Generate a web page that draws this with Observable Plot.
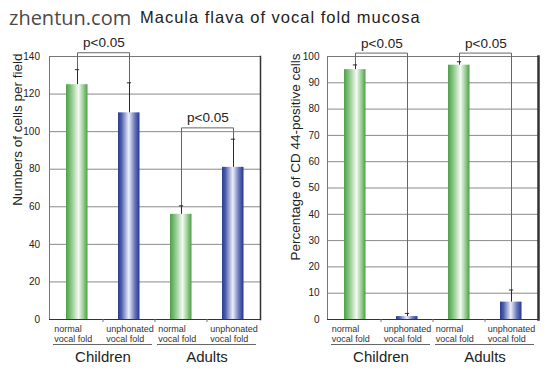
<!DOCTYPE html>
<html><head><meta charset="utf-8">
<script src="https://cdn.jsdelivr.net/npm/d3@7"></script>
<script src="https://cdn.jsdelivr.net/npm/@observablehq/plot@0.6"></script>
<style>
body{margin:0;background:#fff;font-family:"Liberation Sans",Arial,sans-serif;}
#wrap{position:relative;width:549px;height:371px;overflow:hidden;background:#fff;}
#wm{position:absolute;left:9px;top:8px;font-family:"Open Sans",sans-serif;font-size:20px;color:#4a4a4a;line-height:1;white-space:nowrap;}
#title{position:absolute;left:140px;top:9px;font-size:16.5px;letter-spacing:1px;color:#222;line-height:1;white-space:nowrap;}
.panel{position:absolute;top:0;}
</style></head><body>
<div id="wrap"><div id="wm">zhentun.com</div><div id="title">Macula flava of vocal fold mucosa</div></div>
<script>
// ---- data ----
const keys = ["C-normal","C-unphonated","A-normal","A-unphonated"];
const groups = ["Children","Children","Adults","Adults"];
const tissues = ["normal\nvocal fold","unphonated\nvocal fold","normal\nvocal fold","unphonated\nvocal fold"];
const groupNames = ["Children","Adults"];
const cellCounts = [125, 110, 56, 81];
const cellCountsErr = [8, 16, 4.5, 15];
const cd44 = [95, 1.1, 96.7, 6.6];
const cd44Err = [1.8, 1.2, 1.3, 4.6];
const leftTicks = [0,20,40,60,80,100,120,140];
const rightTicks = [0,10,20,30,40,50,60,70,80,90,100];
const sigLabel = "p<0.05";
// brackets: [bar a, bar b, bracket height]
const leftBrackets = [[0,1,142],[2,3,102]];
const rightBrackets = [[0,1,101.3],[2,3,101.3]];

const FONT = "Liberation Sans, Arial, Helvetica, sans-serif";

function makePanel({id, values, errs, yMax, ticks, yLabel, brackets, width, ml, mr, labelGap, labelDx, rightStroke, titleDx}) {
  const H = 371, mt = 56, mb = 52;
  const bw = (width - ml - mr) / 4;
  const data = keys.map((k, i) => ({key: k, group: groups[i], tissue: tissues[i], v: values[i], e: errs[i], top: values[i] + errs[i], kind: i % 2 ? "blue" : "green"}));
  const bracketPts = [];
  brackets.forEach(([a, b, h], j) => {
    bracketPts.push({j, key: keys[a], y: data[a].top});
    bracketPts.push({j, key: keys[a], y: h});
    bracketPts.push({j, key: keys[b], y: h});
    bracketPts.push({j, key: keys[b], y: data[b].top});
  });
  const bracketLabels = brackets.map(([a, b, h]) => ({a: keys[a], h}));

  const defs = () => {
    const d = d3.create("svg:defs");
    const mk = (name, stops) => {
      const g = d.append("linearGradient").attr("id", id + name).attr("x1", "0").attr("x2", "1").attr("y1", "0").attr("y2", "0");
      stops.forEach(([o, c]) => g.append("stop").attr("offset", o).attr("stop-color", c));
    };
    mk("green", [[0, "#4f9f4b"], [0.15, "#6fb86b"], [0.58, "#f4faf2"], [0.82, "#93cb8e"], [1, "#4d9d49"]]);
    mk("blue", [[0, "#2a3b8f"], [0.15, "#4a5aa9"], [0.5, "#eceffa"], [0.78, "#6a78bc"], [1, "#25358b"]]);
    return d.node();
  };

  const groupAxis = (index, scales) => {
    const x = scales.x, y = scales.y;
    const band = typeof x.bandwidth === "function" ? x.bandwidth() : x.bandwidth;
    const g = d3.create("svg:g").attr("font-family", FONT);
    const y0 = y(0);
    [[0, 1], [2, 3]].forEach(([a, b], gi) => {
      const x1 = x(keys[a]) + 2, x2 = x(keys[b]) + band - 3;
      g.append("line").attr("x1", x1).attr("x2", x2).attr("y1", y0 + 25.5).attr("y2", y0 + 25.5).attr("stroke", "#666");
      g.append("text").attr("x", (x(keys[a]) + x(keys[b]) + band) / 2).attr("y", y0 + 42.7)
        .attr("text-anchor", "middle").attr("font-size", 15).attr("fill", "#222").text(groupNames[gi]);
    });
    [1, 2, 3].forEach(i => {
      g.append("line").attr("x1", x(keys[i])).attr("x2", x(keys[i])).attr("y1", y0).attr("y2", y0 + 3).attr("stroke", "#777");
    });
    return g.node();
  };

  return Plot.plot({
    width, height: H,
    marginTop: mt, marginBottom: mb, marginLeft: ml, marginRight: mr,
    style: {fontFamily: FONT, fontSize: "10px", color: "#222", background: "transparent"},
    x: {type: "band", domain: keys, padding: 0, axis: null},
    y: {domain: [0, yMax], axis: null},
    marks: [
      defs,
      Plot.gridY(ticks, {stroke: "#8a8a8a", strokeOpacity: 1}),
      Plot.frame({stroke: "#777"}),
      Plot.barY(data.filter(d => d.kind === "green"), {x: "key", y: "v", fill: `url(#${id}green)`, insetLeft: 15, insetRight: 15.5}),
      Plot.barY(data.filter(d => d.kind === "blue"), {x: "key", y: "v", fill: `url(#${id}blue)`, insetLeft: 15, insetRight: 15.5}),
      Plot.line(bracketPts, {x: "key", y: "y", z: "j", stroke: "#666", strokeWidth: 1}),
      Plot.ruleX(data, {x: "key", y1: "v", y2: "top", stroke: "#2a2a35", strokeWidth: 1}),
      Plot.tickY(data, {x: "key", y: "top", stroke: "#2a2a35", insetLeft: (bw - 5) / 2, insetRight: (bw - 5) / 2}),
      Plot.text(bracketLabels, {x: "a", y: "h", text: () => sigLabel, dx: bw / 2, dy: -5.5, lineAnchor: "bottom", fontSize: 13.5, fill: "#222"}),
      Plot.axisY(ticks, {tickSize: 0, tickPadding: labelGap, fontSize: 10, fill: "#222"}),
      Plot.ruleY([0], {stroke: "#333"}),
      Plot.ruleX([0], {stroke: "#444"}),
      Plot.frame({anchor: "right", stroke: "#333", strokeWidth: rightStroke}),
      Plot.text(data, {x: "key", y: 0, text: "tissue", textAnchor: "start", lineAnchor: "top", dx: -bw / 2 + labelDx, dy: 6, fontSize: 9, lineHeight: 1.05, fill: "#333"}),
      Plot.text([yLabel], {frameAnchor: "top-left", text: d => d, rotate: -90, textAnchor: "end", dx: titleDx, dy: -3, fontSize: 13.5, fill: "#222"}),
      groupAxis
    ]
  });
}

const wrap = document.getElementById("wrap");
const left = makePanel({id: "l", values: cellCounts, errs: cellCountsErr, yMax: 140, ticks: leftTicks, yLabel: "Numbers of cells per field", brackets: leftBrackets, width: 275, ml: 49, mr: 15, labelGap: 9.5, labelDx: 3, rightStroke: 1.5, titleDx: -37.5});
left.classList.add("panel"); left.style.left = "0px";
const right = makePanel({id: "r", values: cd44, errs: cd44Err, yMax: 100, ticks: rightTicks, yLabel: "Percentage of CD 44-positive cells", brackets: rightBrackets, width: 274, ml: 52, mr: 11, labelGap: 8, labelDx: 2.5, rightStroke: 2.5, titleDx: -37});
right.classList.add("panel"); right.style.left = "275px";
wrap.appendChild(left);
wrap.appendChild(right);
</script>
</body></html>
